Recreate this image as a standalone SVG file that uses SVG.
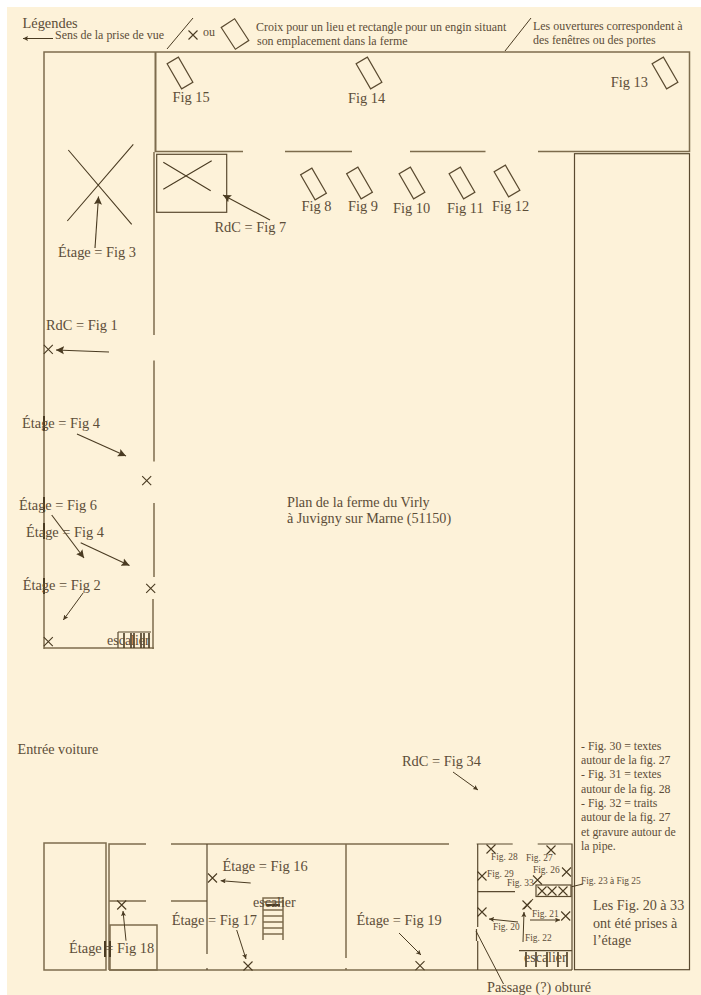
<svg xmlns="http://www.w3.org/2000/svg" width="701" height="995" viewBox="0 0 701 995">
<defs>
<marker id="ah" markerUnits="userSpaceOnUse" markerWidth="10" markerHeight="10" refX="8" refY="4.500" orient="auto"><path d="M0,0.500L8,4.500L0,8.500L1.500,4.500Z" fill="#4a3b22"/></marker>
<marker id="as" markerUnits="userSpaceOnUse" markerWidth="6" markerHeight="6" refX="5" refY="2.500" orient="auto"><path d="M0,0L5,2.500L0,5L1,2.500Z" fill="#4a3b22"/></marker>
<g id="x"><path d="M-4.500,-4.500L4.500,4.500M-4.500,4.500L4.500,-4.500"/></g>
<rect id="eng" x="-6.500" y="-14.500" width="13" height="29"/>
</defs>
<style>
text{font-family:"Liberation Serif","Times New Roman",serif;fill:#5c4d38;font-size:14.400px}
.s{font-size:11.950px}.t{font-size:9.400px}.l{font-size:11.800px}.e{font-size:14px}
.w{fill:none;stroke:#7d6c4d;stroke-width:1.500}
.d{fill:none;stroke:#5a4a30;stroke-width:1.200}
.a{fill:none;stroke:#4a3b22;stroke-width:1.100;marker-end:url(#ah)}
.c{fill:none;stroke:#4a3b22;stroke-width:1}
.h{fill:none;stroke:#4a3b22;stroke-width:1.100}
.sa{fill:none;stroke:#4a3b22;stroke-width:1;marker-end:url(#as)}
.k{fill:none;stroke:#4a3b22;stroke-width:1.600}
</style>
<rect x="7" y="7" width="694" height="988" fill="#fdf2d9"/>
<g id="walls">
<path class="w" d="M44,649V52H689.500V151.500H538M485.500,151.500H410M352,151.500H285M243,151.500H155"/>
<path class="w" style="stroke-width:2" d="M155.500,52V152"/>
<path class="w" d="M154,152V335M154,360.500V461.500M154,503V577M153,599V649M44,648H154"/>
<rect class="d" x="574.500" y="153.700" width="115" height="816"/>
<rect class="d" x="156.700" y="154.300" width="70" height="58"/>
<rect class="w" x="44" y="843" width="62" height="127"/>
<path class="w" d="M109,970V844H146M171,844H449M109,901H146M171,901H207"/>
<path class="w" d="M109,970H572"/>
<path class="d" d="M207,844V954M207,968V970"/>
<path class="w" d="M346,844V958M346,968V970"/>
<rect class="w" x="110" y="925" width="47" height="45"/>
<path class="d" d="M477.700,844V927M477.700,941V970M476.500,929V941M476.700,844H512.700M537.700,844H572V970M477,891.700H515"/>
<path class="k" style="stroke-width:2" d="M44,416V431M44,497V512M44,523V539M44,578V594M105,941V957M110,941V957"/>
</g>
<g id="stairs">
<path class="k" d="M124,633V648M131,633V648M134,633V648M141,633V648M144,633V648M149,633V648"/>
<path class="d" d="M118,632V648M118,632H151"/>
<path class="w" d="M263,940V898H283V940M263,902H283M263,910H283M263,916H283M263,922H283M263,928H283M263,934H283"/>
<path class="h" style="stroke-width:2" d="M266,905H280"/>
<rect class="d" x="536" y="885" width="35" height="11.500"/>
<path class="d" d="M519,950.700H572"/>
<path class="k" d="M526,952V967M536,952V967M547,952V967M558,952V967M567,952V967"/>
</g>
<g id="connectors">
<path class="c" d="M167,49L193,18M505,51L531,18"/>
<path class="sa" d="M53,38.500H23"/>
<path class="a" d="M270,220L223,195"/>
<path class="a" d="M95,248L98.500,196.500"/>
<path class="a" d="M109,352L56,350"/>
<path class="a" d="M77,434L126,456"/>
<path class="a" d="M51.700,515L84,558"/>
<path class="a" d="M80.700,542.700L129.500,565.500"/>
<path class="sa" d="M83.300,592.700L63.300,620"/>
<path class="sa" d="M250.700,883L220.700,880.700"/>
<path class="sa" d="M236.700,930L246,959"/>
<path class="sa" d="M126,940.700L123,911"/>
<path class="sa" d="M399,933L421,955"/>
<path class="sa" d="M453,772L478,790"/>
<path class="sa" d="M518,922L489,919"/>
<path class="sa" d="M523,942L524,912"/>
<path class="sa" d="M530,920L560,920"/>
<path class="c" d="M476,931L503.500,984"/>
<path class="c" d="M571.700,886.700L583,884"/>
</g>
<g id="crosses">
<use href="#x" transform="translate(193,35)" class="h"/>
<use href="#x" transform="translate(48.300,349.300)" class="h"/>
<use href="#x" transform="translate(146.700,480.700)" class="h"/>
<use href="#x" transform="translate(150.700,588.300)" class="h"/>
<use href="#x" transform="translate(48.300,641.700)" class="h"/>
<use href="#x" transform="translate(212.500,878)" class="h"/>
<use href="#x" transform="translate(121.700,905)" class="h"/>
<use href="#x" transform="translate(248,966)" class="h"/>
<use href="#x" transform="translate(420,965.700)" class="h"/>
<use href="#x" transform="translate(482,876)" class="h"/>
<use href="#x" transform="translate(482,912)" class="h"/>
<use href="#x" transform="translate(491,849)" class="h"/>
<use href="#x" transform="translate(551,850)" class="h"/>
<use href="#x" transform="translate(566.500,872)" class="h"/>
<use href="#x" transform="translate(537.500,880)" class="h"/>
<use href="#x" transform="translate(542,891)" class="h"/>
<use href="#x" transform="translate(552,891)" class="h"/>
<use href="#x" transform="translate(563,891)" class="h"/>
<use href="#x" transform="translate(527,905)" class="h"/>
<use href="#x" transform="translate(565.700,916)" class="h"/>
<path class="h" d="M68.300,150L131.700,224.300M133.300,144.300L67.300,221M163.300,162.300L210.700,190.700M211.700,160.700L163.300,189.300M524,909L533,899"/>
</g>
<g id="engins" class="d">
<rect x="-8" y="-13" width="16" height="26" transform="translate(235,34) rotate(-33)"/>
<use href="#eng" transform="translate(180,73) rotate(-30)"/>
<use href="#eng" transform="translate(369,73) rotate(-30)"/>
<use href="#eng" transform="translate(665,73) rotate(-30)"/>
<use href="#eng" transform="translate(313.500,184) rotate(-30)"/>
<use href="#eng" transform="translate(359.500,183) rotate(-30)"/>
<use href="#eng" transform="translate(412,183) rotate(-30)"/>
<use href="#eng" transform="translate(462,183) rotate(-30)"/>
<use href="#eng" transform="translate(507,181) rotate(-30)"/>
</g>
<g id="labels">
<text x="22.500" y="27.500">Légendes</text>
<text class="s" x="55" y="38.500">Sens de la prise de vue</text>
<text class="s" x="203" y="36">ou</text>
<text class="s" x="256" y="30.500">Croix pour un lieu et rectangle pour un engin situant</text>
<text class="s" x="257" y="44.500">son emplacement dans la ferme</text>
<text class="s" x="533" y="29.500">Les ouvertures correspondent à</text>
<text class="s" x="533" y="43.500">des fenêtres ou des portes</text>
<text x="172.500" y="102">Fig 15</text>
<text x="348" y="103">Fig 14</text>
<text x="610.700" y="87">Fig 13</text>
<text x="301.500" y="211">Fig 8</text>
<text x="348" y="211">Fig 9</text>
<text x="393" y="213">Fig 10</text>
<text x="447" y="213">Fig 11</text>
<text x="492" y="211">Fig 12</text>
<text x="214.500" y="232">RdC = Fig 7</text>
<text x="58" y="257">Étage = Fig 3</text>
<text x="46" y="330">RdC = Fig 1</text>
<text x="22" y="428">Étage = Fig 4</text>
<text x="19" y="510">Étage = Fig 6</text>
<text x="26" y="537">Étage = Fig 4</text>
<text x="22.700" y="590">Étage = Fig 2</text>
<text class="e" x="107" y="645">escalier</text>
<text class="e" style="font-size:14.200px" x="287" y="507">Plan de la ferme du Virly</text>
<text class="e" style="font-size:14.200px" x="287" y="523">à Juvigny sur Marne (51150)</text>
<text class="e" style="font-size:14.200px" x="17.500" y="754">Entrée voiture</text>
<text x="402" y="766">RdC = Fig 34</text>
<text x="222.500" y="871">Étage = Fig 16</text>
<text x="171.700" y="925">Étage = Fig 17</text>
<text x="69" y="953">Étage = Fig 18</text>
<text x="356.500" y="925">Étage = Fig 19</text>
<text class="e" x="253" y="907">escalier</text>
<text class="t" x="491" y="860">Fig. 28</text>
<text class="t" x="526" y="861">Fig. 27</text>
<text class="t" x="533" y="873">Fig. 26</text>
<text class="t" x="487" y="877">Fig. 29</text>
<text class="t" x="507" y="886">Fig. 33</text>
<text class="t" x="532" y="917">Fig. 21</text>
<text class="t" x="493" y="930">Fig. 20</text>
<text class="t" x="525" y="941">Fig. 22</text>
<text class="e" x="524" y="962">escalier</text>
<text class="e" style="font-size:14.200px" x="487" y="992">Passage (?) obturé</text>
<text class="l" x="581" y="750">- Fig. 30 = textes</text>
<text class="l" x="581" y="764">autour de la fig. 27</text>
<text class="l" x="581" y="778">- Fig. 31 = textes</text>
<text class="l" x="581" y="793">autour de la fig. 28</text>
<text class="l" x="581" y="807">- Fig. 32 = traits</text>
<text class="l" x="581" y="821">autour de la fig. 27</text>
<text class="l" x="581" y="836">et gravure autour de</text>
<text class="l" x="581" y="850">la pipe.</text>
<text class="t" x="581" y="884">Fig. 23 à Fig 25</text>
<text style="font-size:14.100px" x="593" y="910">Les Fig. 20 à 33</text>
<text style="font-size:14.100px" x="593" y="928">ont été prises à</text>
<text style="font-size:14.100px" x="593" y="945">l’étage</text>
</g>
</svg>
